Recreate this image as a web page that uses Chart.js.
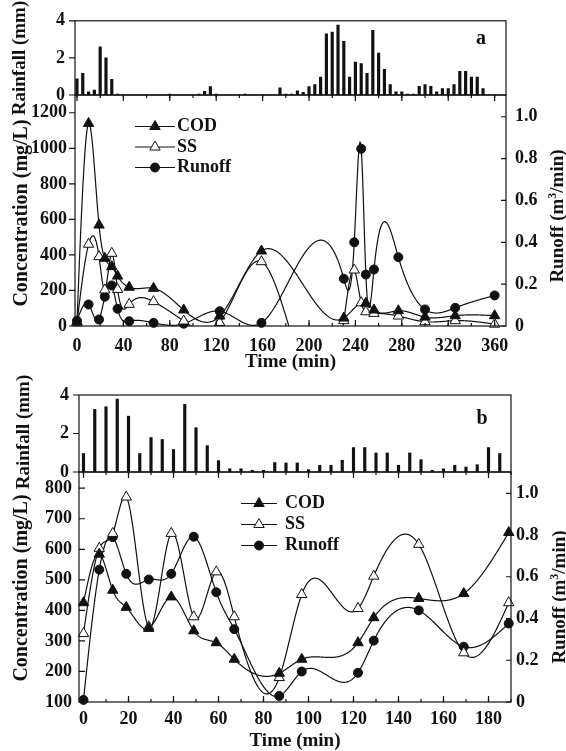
<!DOCTYPE html>
<html>
<head>
<meta charset="utf-8">
<script src="https://cdn.jsdelivr.net/npm/chart.js@4.4.0/dist/chart.umd.min.js"></script>
<style>
body { margin: 0; background: #fff; width: 566px; height: 751px; overflow: hidden; position: relative;
       font-family: "Liberation Serif", "Times New Roman", serif; color: #111; }
canvas { position: absolute; left: 0; top: 0; }
.tag { position: absolute; font-weight: bold; font-size: 20px; line-height: 1; transform: translate(-50%, -50%); }
.vtitle { position: absolute; font-weight: bold; line-height: 1; white-space: nowrap;
          transform: translate(-50%, -50%) rotate(-90deg); }
.vtitle sup { font-size: 12px; vertical-align: 7px; line-height: 0; }
</style>
</head>
<body>
<canvas id="rainA" width="566" height="751"></canvas>
<canvas id="concA" width="566" height="751"></canvas>
<canvas id="rainB" width="566" height="751"></canvas>
<canvas id="concB" width="566" height="751"></canvas>
<div class="tag" style="left:481px;top:37px">a</div>
<div class="tag" style="left:482px;top:417px">b</div>
<div class="vtitle" style="left:18px;top:58px;font-size:19px">Rainfall (mm)</div>
<div class="vtitle" style="left:20px;top:213px;font-size:20px">Concentration (mg/L)</div>
<div class="vtitle" style="left:22px;top:432px;font-size:19px">Rainfall (mm)</div>
<div class="vtitle" style="left:20px;top:588px;font-size:20px">Concentration (mg/L)</div>
<div class="vtitle" style="left:556px;top:216px;font-size:19px">Runoff (m<sup>3</sup>/min)</div>
<div class="vtitle" style="left:558px;top:597px;font-size:19px">Runoff (m<sup>3</sup>/min)</div>
<script>
// ---- event a ----
const rainA_time = [0, 5, 10, 15, 20, 25, 30, 35, 40, 45, 50, 55, 60, 65, 70, 75, 80, 85, 90, 95,
  100, 105, 110, 115, 120, 125, 130, 135, 140, 145, 150, 155, 160, 165, 170, 175, 180, 185, 190, 195,
  200, 205, 210, 215, 220, 225, 230, 235, 240, 245, 250, 255, 260, 265, 270, 275, 280, 285, 290, 295,
  300, 305, 310, 315, 320, 325, 330, 335, 340, 345, 350, 355];
const rainA_mm = [0.87, 1.17, 0.17, 0.26, 2.6, 2.0, 0.85, 0.05, 0, 0,
  0, 0, 0, 0, 0, 0, 0.05, 0, 0, 0,
  0, 0.05, 0.2, 0.45, 0.05, 0, 0, 0, 0, 0.05,
  0, 0, 0, 0, 0, 0.38, 0.05, 0.05, 0.22, 0.15,
  0.45, 0.56, 0.96, 3.3, 3.39, 3.77, 2.9, 0.96, 1.77, 1.69,
  1.17, 3.48, 2.26, 1.39, 0.56, 0.17, 0.17, 0.05, 0.05, 0.47,
  0.56, 0.47, 0.17, 0.35, 0.35, 0.56, 1.27, 1.27, 0.96, 0.96,
  0.35, 0];

const timeA = [0, 10, 19, 24, 30, 35, 45, 66, 92, 123, 159, 230, 239, 245, 249, 256, 277, 300, 326, 360];
const codA = [24, 1140, 568, 381, 334, 281, 218, 212, 90, 56, 422, 45, null, null, 128, 90, 86, 50, 58, 58];
const ssA = [18, 460, 390, 203, 409, 206, 122, 137, 28, 19, 362, 30, 315, 131, 80, 71, 56, 24, 30, 10];
const runoffA = [0.025, 0.103, 0.031, 0.14, 0.194, 0.082, 0.023, 0.015, 0.011, 0.071, 0.015,
  0.226, 0.40, 0.847, 0.246, 0.27, 0.329, 0.079, 0.087, 0.146];

// ---- event b ----
const rainB_time = [0, 5, 10, 15, 20, 25, 30, 35, 40, 45, 50, 55, 60, 65, 70, 75, 80, 85, 90, 95,
  100, 105, 110, 115, 120, 125, 130, 135, 140, 145, 150, 155, 160, 165, 170, 175, 180, 185];
const rainB_mm = [0.96, 3.25, 3.39, 3.79, 2.9, 0.96, 1.79, 1.69, 1.17, 3.51,
  2.3, 1.37, 0.59, 0.17, 0.17, 0.09, 0.09, 0.49, 0.47, 0.47,
  0.12, 0.35, 0.35, 0.61, 1.27, 1.27, 0.99, 0.99, 0.35, 0.99,
  0.64, 0.09, 0.17, 0.35, 0.26, 0.38, 1.27, 0.96];

const timeB = [0, 7, 13, 19, 29, 39, 49, 59, 67, 87, 97, 122, 129, 149, 169, 189];
const codB = [425, 584, 466, 410, 341, 444, 333, 294, 240, 194, 240, 294, 376, 439, 455, 655];
const ssB = [324, 603, 652, 771, 346, 652, 379, 526, 379, 180, 452, 406, 512, 616, 261, 425];
const runoffB = [0.01, 0.634, 0.79, 0.614, 0.587, 0.614, 0.792, 0.526, 0.349, 0.029, 0.146,
  0.14, 0.294, 0.439, 0.265, 0.376];

const seriesNames = ['COD', 'SS', 'Runoff'];

const ink = '#111';
Chart.defaults.font.family = '"Liberation Serif", "Times New Roman", serif';
Chart.defaults.font.size = 18;
Chart.defaults.font.weight = 'bold';
Chart.defaults.color = ink;
Chart.defaults.animation = false;
Chart.defaults.responsive = false;
Chart.defaults.plugins.legend.display = false;
Chart.defaults.plugins.tooltip.enabled = false;

function pairs(xs, ys) {
    return xs.map((x, i) => ({x: x, y: ys[i]})).filter(p => p.y !== null);
}

const setW = w => s => { s.width = w; };
const setH = h => s => { s.height = h; };
const noGrid = {display: false, drawTicks: false};

// natural cubic spline, like the original plotting program
function spline(xs, ys) {
    const n = xs.length - 1;
    const h = [], al = [], l = [1], mu = [0], z = [0], b = [], c = [], d = [];
    for (let i = 0; i < n; i++) h[i] = xs[i + 1] - xs[i];
    for (let i = 1; i < n; i++) al[i] = 3 / h[i] * (ys[i + 1] - ys[i]) - 3 / h[i - 1] * (ys[i] - ys[i - 1]);
    for (let i = 1; i < n; i++) {
        l[i] = 2 * (xs[i + 1] - xs[i - 1]) - h[i - 1] * mu[i - 1];
        mu[i] = h[i] / l[i];
        z[i] = (al[i] - h[i - 1] * z[i - 1]) / l[i];
    }
    c[n] = 0;
    for (let j = n - 1; j >= 0; j--) {
        c[j] = z[j] - mu[j] * c[j + 1];
        b[j] = (ys[j + 1] - ys[j]) / h[j] - h[j] * (c[j + 1] + 2 * c[j]) / 3;
        d[j] = (c[j + 1] - c[j]) / (3 * h[j]);
    }
    return x => {
        let i = 0;
        while (i < n - 1 && x > xs[i + 1]) i++;
        const dx = x - xs[i];
        return ys[i] + b[i] * dx + c[i] * dx * dx + d[i] * dx * dx * dx;
    };
}

const smoothLines = {
    id: 'smoothLines',
    beforeDatasetsDraw(chart) {
        const {ctx, chartArea: a} = chart;
        ctx.save();
        ctx.beginPath();
        ctx.rect(a.left, a.top, a.right - a.left, a.bottom - a.top);
        ctx.clip();
        chart.data.datasets.forEach((ds, i) => {
            const meta = chart.getDatasetMeta(i);
            const xs = chart.scales[meta.xAxisID], ys = chart.scales[meta.yAxisID];
            const f = spline(ds.data.map(p => p.x), ds.data.map(p => p.y));
            const p0 = xs.getPixelForValue(ds.data[0].x);
            const p1 = xs.getPixelForValue(ds.data[ds.data.length - 1].x);
            ctx.beginPath();
            for (let px = p0; px <= p1; px += 0.5) {
                const py = ys.getPixelForValue(f(xs.getValueForPixel(px)));
                if (px === p0) ctx.moveTo(px, py); else ctx.lineTo(px, py);
            }
            ctx.strokeStyle = ink;
            ctx.lineWidth = 1.2;
            ctx.stroke();
        });
        ctx.restore();
    }
};

function drawMark(ctx, style, x, y, r, fill) {
    ctx.beginPath();
    if (style === 'circle') {
        ctx.arc(x, y, r, 0, Math.PI * 2);
    } else {
        ctx.moveTo(x, y - r);
        ctx.lineTo(x + r * 0.866, y + r * 0.5);
        ctx.lineTo(x - r * 0.866, y + r * 0.5);
        ctx.closePath();
    }
    ctx.fillStyle = fill;
    ctx.fill();
    ctx.lineWidth = 1;
    ctx.strokeStyle = ink;
    ctx.stroke();
}

function keyPlugin(x0, x1, tx, rows) {
    return {
        id: 'key',
        afterDatasetsDraw(chart) {
            const ctx = chart.ctx;
            ctx.save();
            chart.data.datasets.forEach((ds, i) => {
                const y = rows[i];
                ctx.beginPath();
                ctx.moveTo(x0, y);
                ctx.lineTo(x1, y);
                ctx.strokeStyle = ink;
                ctx.lineWidth = 1.2;
                ctx.stroke();
                drawMark(ctx, ds.pointStyle, (x0 + x1) / 2, y, ds.pointRadius, ds.pointBackgroundColor);
                ctx.fillStyle = ink;
                ctx.font = 'bold 18px "Liberation Serif", serif';
                ctx.textBaseline = 'middle';
                ctx.textAlign = 'left';
                ctx.fillText(ds.label, tx, y);
            });
            ctx.restore();
        }
    };
}

// frame + little tick marks, len > 0 points into the plot
function marksPlugin(list) {
    return {
        id: 'marks',
        afterDraw(chart) {
            const {ctx, chartArea: a} = chart;
            ctx.save();
            ctx.strokeStyle = ink;
            ctx.lineWidth = 1.2;
            ctx.strokeRect(a.left, a.top, a.right - a.left, a.bottom - a.top);
            list.forEach(m => {
                const s = chart.scales[m.scale];
                ctx.beginPath();
                for (let k = 0; k < 200; k++) {
                    const v = m.from + k * m.step;
                    if (v > s.max + 1e-9) break;
                    if (v < s.min) continue;
                    const p = s.getPixelForValue(v);
                    if (m.side === 'bottom') { ctx.moveTo(p, a.bottom); ctx.lineTo(p, a.bottom - m.len); }
                    else if (m.side === 'left') { ctx.moveTo(a.left, p); ctx.lineTo(a.left + m.len, p); }
                    else if (m.side === 'right') { ctx.moveTo(a.right, p); ctx.lineTo(a.right - m.len, p); }
                }
                ctx.stroke();
            });
            ctx.restore();
        }
    };
}

function rainChart(id, times, mm, box, xr, lpad, xMajor, xMinor) {
    return new Chart(document.getElementById(id), {
        type: 'bar',
        data: {datasets: [{data: pairs(times, mm), backgroundColor: ink, barThickness: 2.5}]},
        options: {
            layout: {padding: {left: 0, top: box.top, right: 566 - box.right, bottom: 751 - box.bottom}},
            scales: {
                x: {type: 'linear', display: false, min: xr[0], max: xr[1], offset: false},
                y: {
                    min: 0, max: 4, afterFit: setW(box.left), grid: noGrid, border: {display: false},
                    ticks: {stepSize: 2, padding: lpad}
                }
            }
        },
        plugins: [marksPlugin([
            {scale: 'y', side: 'left', from: 0, step: 2, len: -6},
            {scale: 'x', side: 'bottom', from: 0, step: xMajor, len: -6},
            {scale: 'x', side: 'bottom', from: 0, step: xMinor, len: -3}
        ])]
    });
}

function concSets(t, cod, ss, runoff) {
    const base = {clip: false, borderColor: ink, pointBorderColor: ink, pointBorderWidth: 1};
    return [
        Object.assign({label: seriesNames[0], data: pairs(t, cod), yAxisID: 'yConc',
            pointStyle: 'triangle', pointRadius: 6, pointBackgroundColor: ink}, base),
        Object.assign({label: seriesNames[1], data: pairs(t, ss), yAxisID: 'yConc',
            pointStyle: 'triangle', pointRadius: 6, pointBackgroundColor: '#fff'}, base),
        Object.assign({label: seriesNames[2], data: pairs(t, runoff), yAxisID: 'yRunoff',
            pointStyle: 'circle', pointRadius: 4.5, pointBackgroundColor: ink}, base)
    ];
}

function concChart(id, sets, o) {
    return new Chart(document.getElementById(id), {
        type: 'scatter',
        data: {datasets: sets},
        options: {
            layout: {padding: {left: 0, right: 0, top: o.top, bottom: 751 - o.bottom - o.xh}},
            scales: {
                x: {
                    type: 'linear', min: o.xr[0], max: o.xr[1], afterFit: setH(o.xh),
                    grid: noGrid, border: {display: false},
                    ticks: {stepSize: o.xStep, includeBounds: false, padding: o.xpad, maxRotation: 0},
                    title: {display: true, text: 'Time (min)', font: {size: 19, lineHeight: 1},
                            padding: {top: 0, bottom: o.tb}}
                },
                yConc: {
                    axis: 'y', type: 'linear', position: 'left', min: o.yl[0], max: o.yl[1],
                    afterFit: setW(o.left), grid: noGrid, border: {display: false},
                    ticks: {stepSize: o.yStep, includeBounds: false, padding: o.lpad, callback: v => String(v)}
                },
                yRunoff: {
                    axis: 'y', type: 'linear', position: 'right', min: 0, max: o.rmax,
                    afterFit: setW(566 - o.right), grid: noGrid, border: {display: false},
                    ticks: {stepSize: 0.2, includeBounds: false, padding: o.rpad,
                            callback: v => (v === 0 ? '0' : v.toFixed(1))}
                }
            }
        },
        plugins: [smoothLines, keyPlugin(o.key[0], o.key[1], o.key[2], o.keyRows), marksPlugin([
            {scale: 'yConc', side: 'left', from: o.yl[0], step: o.yStep, len: o.ylen},
            {scale: 'yRunoff', side: 'right', from: 0, step: 0.2, len: 5},
            {scale: 'x', side: 'bottom', from: 0, step: o.xStep, len: 6},
            {scale: 'x', side: 'bottom', from: 0, step: o.xStep / 2, len: 3}
        ])]
    });
}

rainChart('rainA', rainA_time, rainA_mm, {left: 75, right: 506, top: 18, bottom: 95},
    [-1.7, 369.8], 10, 40, 20);
rainChart('rainB', rainB_time, rainB_mm, {left: 79, right: 511, top: 395, bottom: 472},
    [-2, 190], 10, 20, 10);

concChart('concA', concSets(timeA, codA, ssA, runoffA), {
    left: 75, right: 506, top: 95, bottom: 326, xh: 48, xr: [-1.7, 369.8], xStep: 40, xpad: 10, tb: 2,
    yl: [0, 1300], yStep: 200, ylen: -6, lpad: 8, rmax: 1.104, rpad: 9,
    key: [135, 175, 177], keyRows: [126.5, 147, 167.5]
});
concChart('concB', concSets(timeB, codB, ssB, runoffB), {
    left: 79, right: 511, top: 472, bottom: 702, xh: 49, xr: [-2, 190], xStep: 20, xpad: 7, tb: 0,
    yl: [100, 853], yStep: 100, ylen: 6, lpad: 7, rmax: 1.102, rpad: 5,
    key: [241, 277, 285], keyRows: [503.5, 524.5, 545.5]
});
</script>
</body>
</html>
